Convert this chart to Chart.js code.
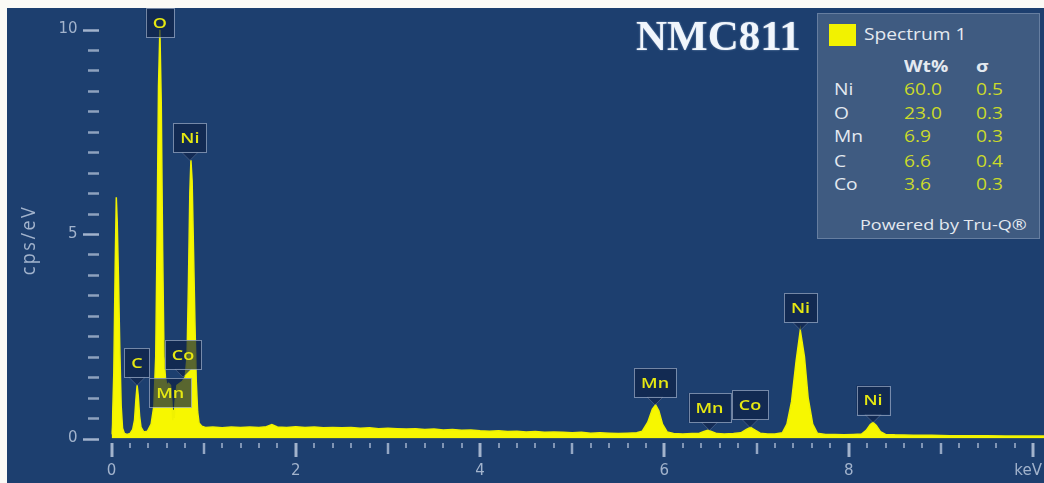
<!DOCTYPE html>
<html>
<head>
<meta charset="utf-8">
<script src="https://cdn.jsdelivr.net/npm/chart.js@4.4.1/dist/chart.umd.min.js"></script>
<style>
  html, body { margin: 0; padding: 0; background: #fbfaf6; }
  #wrap { position: relative; width: 1044px; height: 483px; overflow: hidden; }
  #spectrum { position: absolute; left: 0; top: 0; }
  #sample {
    position: absolute; left: 636px; top: 14px;
    font: bold 43px "Liberation Serif", "Times New Roman", serif;
    line-height: 43px; color: #f1f6fc; white-space: nowrap;
    text-shadow: 0 0 2px rgba(200, 220, 245, 0.6);
  }
  #quant {
    position: absolute; left: 817px; top: 13px; width: 223px; height: 226px;
    box-sizing: border-box; background: #3f5b81;
    border: 1px solid rgba(135, 155, 185, 0.55);
    font-family: "Open Sans", sans-serif; color: #e4e9f0;
  }
  #quant .t {
    position: absolute; white-space: nowrap; line-height: 20px;
    transform: scaleX(1.2); transform-origin: 0 0;
  }
  #quant .swatch { position: absolute; left: 11px; top: 10px; width: 27px; height: 22px; background: #f2f200; }
  #quant .num { color: #cbda2a; }
</style>
</head>
<body>
<div id="wrap">
  <canvas id="spectrum" width="1044" height="483"></canvas>
  <div id="sample">NMC811</div>
  <div id="quant"></div>
</div>
<script>
// EDS spectrum of the NMC811 cathode powder (energy in keV, intensity in cps/eV)
const energyKeV = [
  0.00, 0.01, 0.025, 0.04, 0.052, 0.062, 0.075, 0.09, 0.105, 0.12,
  0.14, 0.17, 0.20, 0.23, 0.25, 0.265, 0.278, 0.29, 0.305, 0.32,
  0.35, 0.39, 0.43, 0.46, 0.48, 0.495, 0.51, 0.525, 0.54, 0.555,
  0.57, 0.585, 0.60, 0.62, 0.64, 0.655, 0.665, 0.672, 0.68, 0.69,
  0.71, 0.74, 0.77, 0.80, 0.82, 0.835, 0.85, 0.862, 0.875, 0.89,
  0.905, 0.92, 0.935, 0.95, 0.98, 1.02, 1.1, 1.2, 1.3, 1.4,
  1.5, 1.6, 1.68, 1.74, 1.8, 1.9, 2.0, 2.1, 2.2, 2.3,
  2.4, 2.5, 2.6, 2.7, 2.8, 2.9, 3.0, 3.1, 3.2, 3.3,
  3.4, 3.5, 3.6, 3.7, 3.8, 3.9, 4.0, 4.1, 4.2, 4.3,
  4.4, 4.5, 4.6, 4.7, 4.8, 4.9, 5.0, 5.1, 5.2, 5.3,
  5.4, 5.5, 5.6, 5.7, 5.76, 5.82, 5.87, 5.905, 5.94, 5.98,
  6.03, 6.1, 6.2, 6.3, 6.38, 6.43, 6.47, 6.51, 6.57, 6.65,
  6.75, 6.83, 6.89, 6.935, 6.98, 7.04, 7.12, 7.2, 7.28, 7.33,
  7.38, 7.43, 7.475, 7.52, 7.56, 7.61, 7.66, 7.75, 7.85, 7.95,
  8.05, 8.14, 8.19, 8.235, 8.265, 8.3, 8.345, 8.4, 8.5, 8.7,
  8.9, 9.1, 9.3, 9.5, 9.7, 9.9, 10.0, 10.12
];
const countsCps = [
  0.10, 0.35, 1.6, 4.2, 5.9, 5.3, 4.0, 2.2, 0.8, 0.25,
  0.12, 0.10, 0.12, 0.22, 0.45, 0.95, 1.30, 1.05, 0.55, 0.28,
  0.16, 0.18, 0.35, 0.8, 2.0, 5.0, 8.6, 10.0, 8.2, 4.6,
  2.0, 1.5, 1.3, 1.35, 1.3, 0.9, 0.45, 0.7, 0.5, 0.9,
  1.3, 1.35, 1.4, 1.5, 2.0, 3.8, 6.0, 6.8, 6.3, 4.6,
  2.9, 1.4, 0.65, 0.38, 0.30, 0.27, 0.28, 0.26, 0.28, 0.27,
  0.28, 0.27, 0.29, 0.34, 0.28, 0.27, 0.29, 0.27, 0.28, 0.26,
  0.27, 0.26, 0.27, 0.25, 0.26, 0.24, 0.25, 0.24, 0.23, 0.24,
  0.22, 0.23, 0.21, 0.22, 0.20, 0.21, 0.19, 0.18, 0.19, 0.17,
  0.18, 0.16, 0.17, 0.15, 0.16, 0.15, 0.14, 0.15, 0.13, 0.14,
  0.13, 0.12, 0.13, 0.14, 0.18, 0.40, 0.72, 0.82, 0.68, 0.35,
  0.16, 0.12, 0.11, 0.12, 0.13, 0.17, 0.20, 0.17, 0.12, 0.11,
  0.12, 0.14, 0.22, 0.27, 0.21, 0.13, 0.11, 0.11, 0.14, 0.35,
  0.9, 1.9, 2.65, 2.0, 1.0, 0.35, 0.13, 0.10, 0.10, 0.09,
  0.10, 0.11, 0.20, 0.34, 0.39, 0.32, 0.17, 0.10, 0.09, 0.08,
  0.08, 0.07, 0.07, 0.07, 0.06, 0.06, 0.06, 0.06
];

// Identified X-ray lines
const lineElements = ['C', 'O', 'Mn', 'Co', 'Ni', 'Mn', 'Mn', 'Co', 'Ni', 'Ni'];
const lineEnergies = [0.277, 0.525, 0.637, 0.776, 0.851, 5.899, 6.490, 6.930, 7.478, 8.265];

// Quantification table
const quantElements = ['Ni', 'O', 'Mn', 'C', 'Co'];
const quantWtPct = ['60.0', '23.0', '6.9', '6.6', '3.6'];
const quantSigma = ['0.5', '0.3', '0.3', '0.4', '0.3'];

// Axis labels
const xTickValues = [0, 2, 4, 6, 8, 10];
const xTickLabels = ['0', '2', '4', '6', '8', 'keV'];
const yTickValues = [0, 5, 10];
const yTickLabels = ['0', '5', '10'];

const BG = '#1d3f6f';
const TICK = '#a2b3cc';
const LABEL_FONT = '600 15px "Open Sans"';
// The Mn L box sits on the low-energy cluster instead of above its own peak
const boxBaseOverride = { 2: 0.77 };

// ---- quantification panel ----
(function buildPanel() {
  const q = document.getElementById('quant');
  const add = (txt, left, top, extra) => {
    const s = document.createElement('span');
    s.className = 't' + (extra && extra.cls ? ' ' + extra.cls : '');
    s.textContent = txt;
    s.style.left = left + 'px';
    s.style.top = top + 'px';
    s.style.fontSize = (extra && extra.size ? extra.size : 16) + 'px';
    if (extra && extra.bold) s.style.fontWeight = '700';
    q.appendChild(s);
  };
  const sw = document.createElement('div');
  sw.className = 'swatch';
  q.appendChild(sw);
  add('Spectrum 1', 46, 9.5, { size: 16 });
  add('Wt%', 86, 41.5, { bold: true });
  add('σ', 158, 41.5, { bold: true });
  const rowCentres = [75, 99, 122, 147, 170];
  quantElements.forEach((el, i) => {
    const top = rowCentres[i] - 10.5;
    add(el, 16, top);
    add(quantWtPct[i], 86, top, { cls: 'num' });
    add(quantSigma[i], 158, top, { cls: 'num' });
  });
  add('Powered by Tru-Q®', 42, 199.5, { size: 15 });
})();

// ---- chart plugins ----
const frame = {
  id: 'frame',
  beforeDraw(chart) {
    const { ctx, width, height } = chart;
    ctx.save();
    ctx.fillStyle = '#fbfaf6';
    ctx.fillRect(0, 0, width, height);
    ctx.fillStyle = BG;
    ctx.fillRect(7, 8, width - 7, height - 8);
    ctx.restore();
  }
};

const axisMarks = {
  id: 'axisMarks',
  afterDraw(chart) {
    const { ctx, scales: { x, y } } = chart;
    ctx.save();
    ctx.strokeStyle = TICK;
    ctx.lineCap = 'butt';
    // y: long dashes at labelled values, short ones every 0.5 cps/eV
    for (let i = 0; i <= 20; i++) {
      const v = i * 0.5;
      const py = Math.round(y.getPixelForValue(v)) + 0.5;
      const major = yTickValues.includes(v);
      ctx.lineWidth = 2.5;
      ctx.globalAlpha = major ? 1 : 0.85;
      ctx.beginPath();
      ctx.moveTo(major ? 83 : 88, py);
      ctx.lineTo(99, py);
      ctx.stroke();
    }
    // x: every 0.2 keV, longer at whole keV, longest at labelled values
    const y0 = y.getPixelForValue(0);
    for (let i = 0; i <= 50; i++) {
      const v = i * 0.2;
      const px = Math.round(x.getPixelForValue(v));
      let len = 5, w = 2, a = 0.75;
      if (i % 10 === 0) { len = 14; w = 3; a = 1; }
      else if (i % 5 === 0) { len = 11; w = 2.5; a = 0.9; }
      ctx.globalAlpha = a;
      ctx.lineWidth = w;
      ctx.beginPath();
      ctx.moveTo(px, y0 + 4.5);
      ctx.lineTo(px, y0 + 4.5 + len);
      ctx.stroke();
    }
    ctx.globalAlpha = 1;
    // unit label at the end of the energy axis
    ctx.fillStyle = TICK;
    ctx.font = '15px "DejaVu Sans"';
    ctx.textAlign = 'right';
    ctx.textBaseline = 'middle';
    ctx.fillText(xTickLabels[xTickLabels.length - 1], 1042, 471);
    // vertical axis title
    ctx.save();
    ctx.translate(29, 240);
    ctx.rotate(-Math.PI / 2);
    ctx.scale(1, 1.15);
    ctx.textAlign = 'center';
    ctx.font = '18px "Open Sans"';
    ctx.letterSpacing = '2.5px';
    ctx.fillText('cps/eV', 0, 0);
    ctx.restore();
    ctx.restore();
  }
};

const lineMarkers = {
  id: 'lineMarkers',
  afterDatasetsDraw(chart) {
    const { ctx, scales: { x, y } } = chart;
    const placed = [];
    ctx.save();
    ctx.font = LABEL_FONT;
    lineElements.forEach((el, i) => {
      const e = lineEnergies[i];
      const px = x.getPixelForValue(e);
      let peak = 0;
      energyKeV.forEach((k, j) => { if (Math.abs(k - e) <= 0.03) peak = Math.max(peak, countsCps[j]); });
      const py = y.getPixelForValue(Math.min(peak, y.max));
      const w = ctx.measureText(el).width * 1.2 + 14;
      const h = 29;
      let bottom = i in boxBaseOverride ? y.getPixelForValue(boxBaseOverride[i]) : py - 8;
      let top = bottom - h;
      if (top < 8) { top = 8; bottom = top + h; }
      const left = px - w / 2, right = px + w / 2;
      for (const b of placed) {
        if (left < b.right && right > b.left && top < b.bottom && bottom > b.top) {
          bottom = b.top - 2;
          top = bottom - h;
        }
      }
      placed.push({ left, right, top, bottom });

      // pointer from the box down to the peak
      if (py > bottom + 2) {
        ctx.beginPath();
        ctx.moveTo(px - 8, bottom);
        ctx.lineTo(px + 8, bottom);
        ctx.lineTo(px, py);
        ctx.closePath();
        ctx.fillStyle = 'rgba(14, 32, 70, 0.65)';
        ctx.fill();
        ctx.strokeStyle = 'rgba(140, 156, 185, 0.35)';
        ctx.lineWidth = 1;
        ctx.stroke();
      }
      // box
      ctx.fillStyle = 'rgba(14, 32, 70, 0.68)';
      ctx.fillRect(left, top, w, h);
      ctx.strokeStyle = 'rgba(150, 165, 192, 0.75)';
      ctx.lineWidth = 1;
      ctx.strokeRect(Math.round(left) + 0.5, Math.round(top) + 0.5, Math.round(w), h);
      // element symbol
      ctx.save();
      ctx.translate(px, (top + bottom) / 2 + 1);
      ctx.scale(1.2, 1);
      ctx.fillStyle = '#e6e812';
      ctx.textAlign = 'center';
      ctx.textBaseline = 'middle';
      ctx.fillText(el, 0, 0);
      ctx.restore();
    });
    ctx.restore();
  }
};

const pinScale = (w, h) => (scale) => {
  if (w !== undefined) scale.width = w;
  if (h !== undefined) scale.height = h;
  scale.paddingLeft = scale.paddingRight = scale.paddingTop = scale.paddingBottom = 0;
};

new Chart(document.getElementById('spectrum'), {
  type: 'line',
  data: {
    datasets: [{
      label: 'Spectrum 1',
      data: energyKeV.map((e, i) => ({ x: e, y: countsCps[i] })),
      borderColor: '#f0f200',
      backgroundColor: '#f7f700',
      borderWidth: 1.5,
      fill: 'origin',
      pointRadius: 0,
      tension: 0
    }]
  },
  options: {
    responsive: false,
    animation: false,
    devicePixelRatio: 1,
    layout: { padding: { left: 0, top: 29.5, right: 0, bottom: 0 } },
    plugins: { legend: { display: false }, tooltip: { enabled: false } },
    scales: {
      x: {
        type: 'linear', min: 0, max: 10.12,
        afterBuildTicks: (s) => { s.ticks = xTickValues.map(v => ({ value: v })); },
        afterFit: pinScale(undefined, 44.5),
        grid: { display: false, drawTicks: false },
        border: { display: false },
        ticks: {
          padding: 24, color: TICK, maxRotation: 0, autoSkip: false,
          font: { family: 'DejaVu Sans', size: 15 },
          callback: (v) => { const i = xTickValues.indexOf(v); return i < xTickValues.length - 1 ? xTickLabels[i] : ''; }
        }
      },
      y: {
        min: 0, max: 10,
        afterBuildTicks: (s) => { s.ticks = yTickValues.map(v => ({ value: v })); },
        afterFit: pinScale(111.5, undefined),
        grid: { display: false, drawTicks: false },
        border: { display: false },
        ticks: {
          padding: 34, color: TICK, autoSkip: false,
          font: { family: 'DejaVu Sans', size: 15 },
          callback: (v) => yTickLabels[yTickValues.indexOf(v)]
        }
      }
    }
  },
  plugins: [frame, axisMarks, lineMarkers]
});
</script>
</body>
</html>
